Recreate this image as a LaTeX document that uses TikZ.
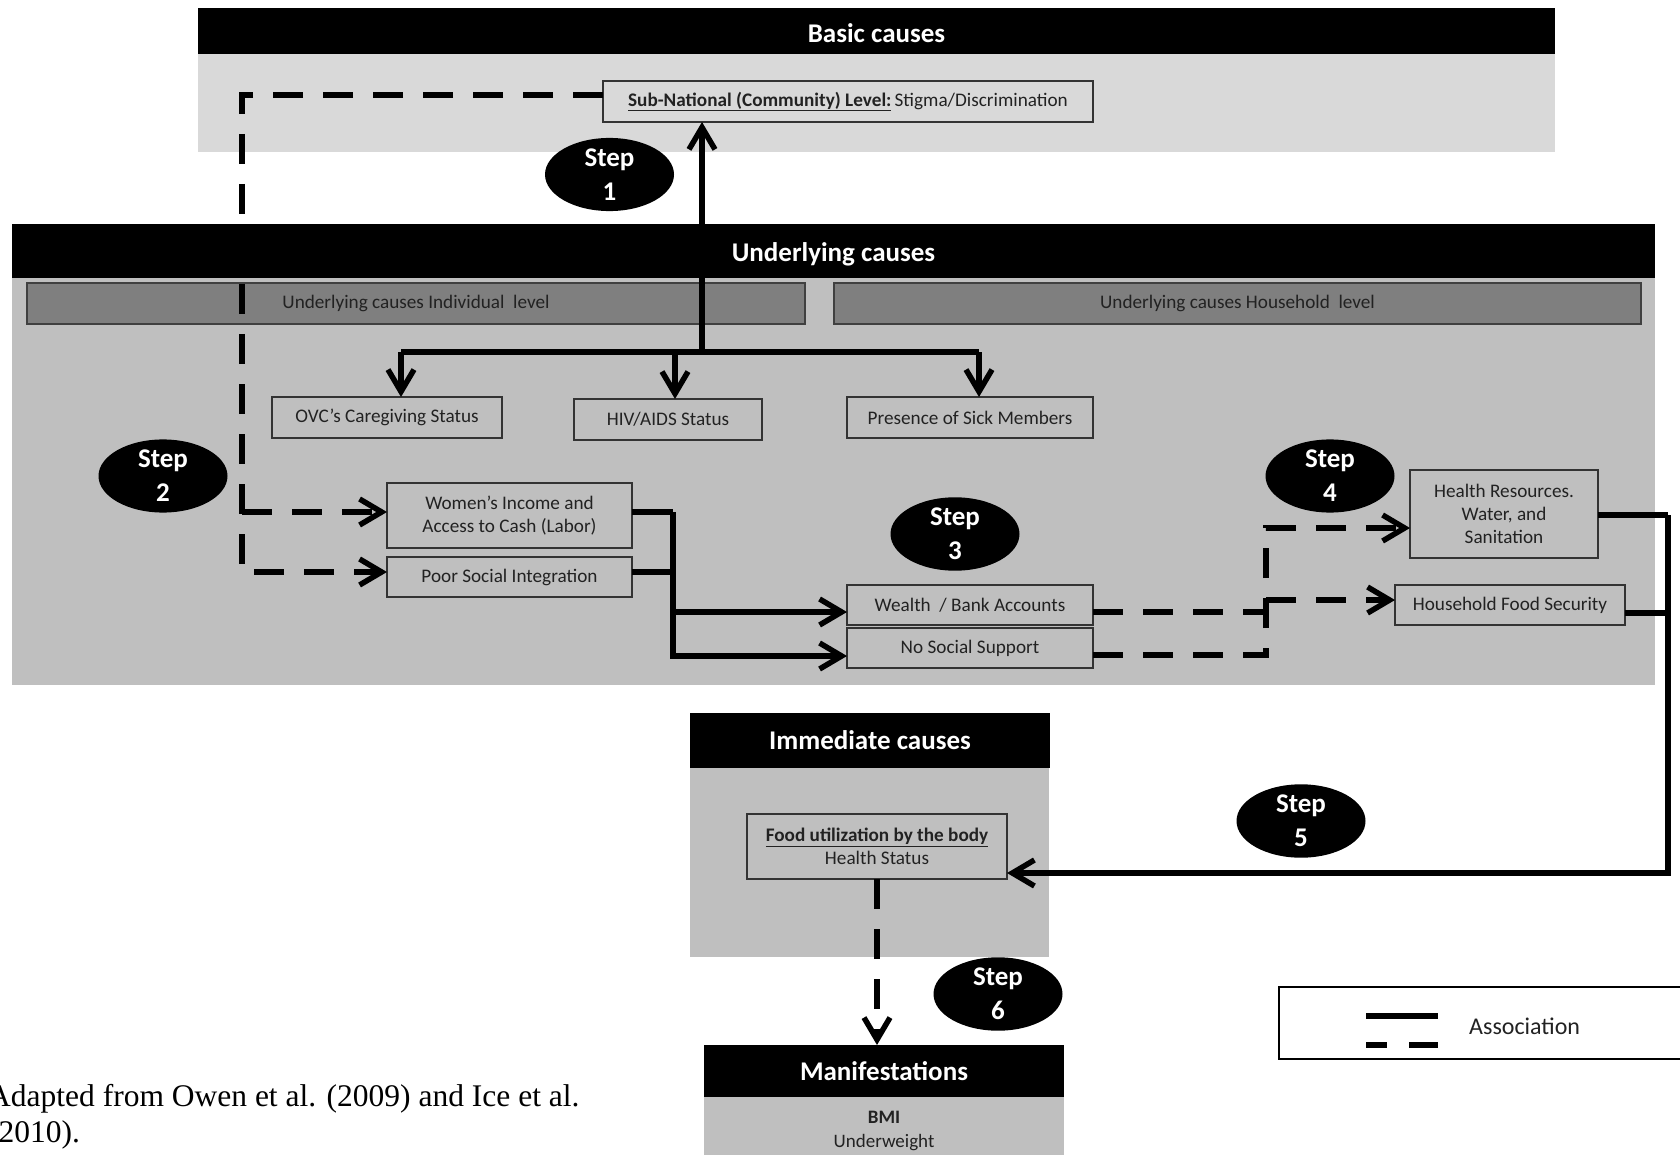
\documentclass[tikz,border=0pt]{standalone}
\usepackage{fontspec}
\setmainfont{Carlito}
\newfontfamily\sourcefont{Liberation Serif}
\usetikzlibrary{arrows.meta,shapes.geometric}
\definecolor{paleband}{HTML}{D9D9D9}
\definecolor{midband}{HTML}{BFBFBF}
\definecolor{levelbar}{HTML}{7F7F7F}
\definecolor{inkgrey}{HTML}{222222}
\newcommand{\hdrfont}{\fontsize{27}{32}\selectfont\bfseries}
\newcommand{\boxfont}{\fontsize{19.2}{23}\selectfont}
\tikzset{
  base/.style={inner sep=0pt, outer sep=0pt, anchor=north west},
  header/.style={base, fill=black, text=white, font=\hdrfont},
  band/.style={base, fill=#1},
  levelbox/.style={base, fill=levelbar, draw=black!75, line width=1.3pt, text=inkgrey, font=\boxfont},
  factor/.style={base, draw=black!80, line width=1.4pt, text=inkgrey, font=\boxfont, align=center},
  stepnode/.style={ellipse, fill=black, text=white, inner sep=0pt, minimum width=129pt, minimum height=71pt, font=\fontsize{27}{34}\selectfont\bfseries, align=center},
  conn/.style={line width=5.5pt, line join=miter, draw=black},
  assoc/.style={conn, dash pattern=on 30pt off 20pt},
  tipped/.style={-{Straight Barb[length=22pt,width=26pt]}},
  legline/.style={line width=6.5pt},
  srcnote/.style={font=\sourcefont\fontsize{31.5}{34.5}\selectfont, anchor=base west, inner sep=0pt},
}
\begin{document}
\begin{tikzpicture}[x=1pt,y=-1pt]
\useasboundingbox (0,0) rectangle (1680,1155);

% --- bands and headers
\node[band=paleband, minimum width=1357pt, minimum height=98pt] (basicbg) at (198,54) {};
\node[header, minimum width=1357pt, minimum height=46pt] (basic) at (198,8) {\raisebox{-12pt}[0pt][0pt]{Basic causes}};
\node[band=midband, minimum width=1643pt, minimum height=407pt] (undbg) at (12,278) {};
\node[header, minimum width=1643pt, minimum height=54pt] (und) at (12,224) {\raisebox{-11pt}[0pt][0pt]{Underlying causes}};
\node[levelbox, minimum width=778pt, minimum height=41pt] (indiv) at (27,283) {Underlying causes Individual\ \ level};
\node[levelbox, minimum width=807pt, minimum height=41pt] (house) at (834,283) {Underlying causes Household\ \ level};
\node[band=midband, minimum width=359pt, minimum height=189pt] (immbg) at (690,768) {};
\node[header, minimum width=360pt, minimum height=55pt] (imm) at (690,713) {Immediate causes};
\node[band=midband, minimum width=360pt, minimum height=70pt] (manbg) at (704,1097) {};
\node[header, minimum width=360pt, minimum height=52pt] (man) at (704,1045) {Manifestations};
\node[font=\fontsize{19}{23.5}\selectfont, align=center, text=inkgrey, inner sep=0pt] (bmi) at (884,1131) {\textbf{BMI}\\Underweight};

% --- factor boxes
\node[factor, minimum width=490pt, minimum height=41pt] (sub) at (603,81) {\underline{\textbf{Sub-National (Community) Level:}}\,Stigma/Discrimination};
\node[factor, minimum width=230pt, minimum height=41pt] (ovc) at (272,397) {OVC’s Caregiving Status};
\node[factor, minimum width=188pt, minimum height=41pt] (hiv) at (574,399) {HIV/AIDS Status};
\node[factor, minimum width=246pt, minimum height=41pt] (sick) at (847,397) {Presence of Sick Members};
\node[factor, minimum width=245pt, minimum height=65pt] (women) at (387,483) {Women’s Income and\\Access to Cash (Labor)};
\node[factor, minimum width=245pt, minimum height=40pt] (poor) at (387,557) {Poor Social Integration};
\node[factor, minimum width=246pt, minimum height=40pt] (wealth) at (847,585) {Wealth\ \ / Bank Accounts};
\node[factor, minimum width=246pt, minimum height=40pt] (nosup) at (847,628) {No Social Support};
\node[factor, minimum width=188pt, minimum height=88pt] (health) at (1410,470) {Health Resources.\\Water, and\\Sanitation};
\node[factor, minimum width=230pt, minimum height=40pt] (hfs) at (1395,585) {Household Food Security};
\node[factor, minimum width=260pt, minimum height=65pt] (food) at (747,814) {\underline{\textbf{Food utilization by the body}}\\Health Status};

% --- step markers
\node[stepnode] (s1) at (609.5,174.5) {Step\\1};
\node[stepnode] (s2) at (163,476) {Step\\2};
\node[stepnode] (s3) at (955,534) {Step\\3};
\node[stepnode] (s4) at (1330,476) {Step\\4};
\node[stepnode] (s5) at (1301,821) {Step\\5};
\node[stepnode] (s6) at (998,994) {Step\\6};

% --- junction points
\coordinate (hub) at (702,352);
\coordinate (bl) at (401,352);
\coordinate (bm) at (675,352);
\coordinate (br) at (979,352);
\coordinate (dtop) at (242,95);
\coordinate (dw) at (242,512);
\coordinate (dp) at (242,572);
\coordinate (ja) at (673,512);
\coordinate (jb) at (673,572);
\coordinate (jc) at (673,612);
\coordinate (jd) at (673,656);
\coordinate (je) at (1266,612);
\coordinate (jf) at (1266,655);
\coordinate (jg) at (1266,528);
\coordinate (jh) at (1266,600);
\coordinate (ji) at (1668,515);
\coordinate (jj) at (1668,613);
\coordinate (jk) at (1668,873);

% --- step 1: individual factors up to the community level
\draw[conn,tipped] (hub) -- (hub |- sub.south);
\draw[conn] (bl) -- (br);
\draw[conn,tipped] (bl) -- (bl |- ovc.north);
\draw[conn,tipped] (bm) -- (bm |- hiv.north);
\draw[conn,tipped] (br) -- (br |- sick.north);

% --- step 2: community level to women's income and social integration
\draw[assoc,tipped] (sub.west |- dtop) -- (dtop) -- (dp) -- (poor.west |- dp);
\draw[assoc,tipped] (dw) -- (women.west |- dw);

% --- step 3
\draw[conn] (women.east |- ja) -- (ja);
\draw[conn] (poor.east |- jb) -- (jb);
\draw[conn,tipped] (ja) -- (jd) -- (nosup.west |- jd);
\draw[conn,tipped] (jc) -- (wealth.west |- jc);

% --- step 4
\draw[assoc] (wealth.east |- je) -- (je);
\draw[assoc,tipped] (nosup.east |- jf) -- (jf) -- (jg) -- (health.west |- jg);
\draw[assoc,tipped] (jh) -- (hfs.west |- jh);

% --- step 5
\draw[conn] (health.east |- ji) -- (ji);
\draw[conn] (hfs.east |- jj) -- (jj);
\draw[conn,tipped] (ji) -- (jk) -- (food.east |- jk);

% --- step 6
\draw[assoc,tipped] (food.south) -- (food.south |- man.north);

% --- legend
\node[base, draw=black, line width=2pt, minimum width=420pt, minimum height=72pt] (legend) at (1279,987) {};
\node[anchor=west, font=\fontsize{24}{28}\selectfont, text=inkgrey, inner sep=0pt] (assoctext) at (1469,1026) {Association};
\coordinate (la) at (1366,1016);
\coordinate (lb) at (1438,1016);
\coordinate (lc) at (1366,1045);
\coordinate (ld) at (1387,1045);
\coordinate (le) at (1409,1045);
\coordinate (lf) at (1438,1045);
\draw[legline] (la) -- (lb);
\draw[legline] (lc) -- (ld) (le) -- (lf);

% --- source note
\node[srcnote] (src1) at (-12,1106.5) {Adapted from Owen et al. (2009) and Ice et al.};
\node[srcnote] (src2) at (-12,1142.5) {(2010).};
\end{tikzpicture}
\end{document}
